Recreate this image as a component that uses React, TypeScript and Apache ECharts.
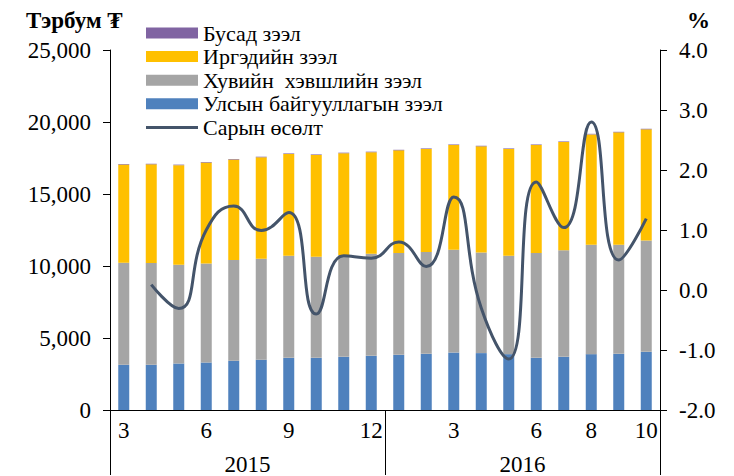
import React, { useEffect, useRef } from "react";
import * as echarts from "echarts";

// Months (2015/3 .. 2016/10)
const categories = [
  "2015-3", "2015-4", "2015-5", "2015-6", "2015-7", "2015-8", "2015-9", "2015-10", "2015-11", "2015-12",
  "2016-1", "2016-2", "2016-3", "2016-4", "2016-5", "2016-6", "2016-7", "2016-8", "2016-9", "2016-10",
];
const shownMonthLabels = ["2015-3", "2015-6", "2015-9", "2015-12", "2016-3", "2016-6", "2016-8", "2016-10"];
const years = ["2015", "2016"];

// Тэрбум ₮
const stateLoans = [3140, 3140, 3230, 3300, 3420, 3490, 3620, 3620, 3690, 3760, 3830, 3900, 3990, 3950, 3880, 3620, 3690, 3880, 3900, 4040];
const privateLoans = [7090, 7070, 6860, 6880, 6990, 7010, 7090, 7020, 7070, 7090, 7070, 7070, 7140, 6990, 6830, 7280, 7410, 7590, 7570, 7730];
const individualLoans = [6810, 6850, 6910, 7000, 6980, 7050, 7070, 7070, 7070, 7050, 7130, 7160, 7270, 7370, 7420, 7500, 7510, 7670, 7810, 7720];
const otherLoans = [40, 40, 40, 40, 40, 40, 40, 40, 40, 40, 40, 40, 40, 40, 40, 40, 40, 40, 40, 40];
// %
const monthlyGrowth = [null, 0.09, -0.31, 1.0, 1.4, 0.99, 1.29, -0.4, 0.57, 0.53, 0.8, 0.39, 1.55, -0.3, -1.15, 1.8, 1.04, 2.8, 0.5, 1.19];

const leftTicks = { min: 0, max: 25000, interval: 5000 };
const rightTicks = { min: -2, max: 4, interval: 1 };

const FONT = "Liberation Serif";
const LINE_ICON =
  "path://M0,4L52,4L52,7L0,7Z M0,0L0.01,0L0.01,0.01L0,0.01Z M51.99,10.99L52,10.99L52,11L51.99,11Z";

export default function App() {
  const ref = useRef<HTMLDivElement>(null);
  useEffect(() => {
    if (!ref.current) return;
    const chart = echarts.init(ref.current, null, { renderer: "svg" });
    const barBase = {
      type: "bar" as const,
      stack: "loans",
      barWidth: 11,
      xAxisIndex: 0,
      yAxisIndex: 0,
    };
    const axisText = { fontFamily: FONT, fontSize: 23, color: "#000" };
    chart.setOption({
      animation: false,
      grid: { left: 110, right: 74, top: 50, bottom: 65, containLabel: false },
      legend: {
        orient: "vertical",
        left: 146,
        top: 22,
        padding: 0,
        itemWidth: 52,
        itemHeight: 11,
        itemGap: 1.6,
        textStyle: { fontFamily: FONT, fontSize: 22, color: "#000" },
        data: [
          { name: "Бусад зээл", icon: "rect" },
          { name: "Иргэдийн зээл", icon: "rect" },
          { name: "Хувийн  хэвшлийн зээл", icon: "rect" },
          { name: "Улсын байгууллагын зээл", icon: "rect" },
          { name: "Сарын өсөлт", icon: LINE_ICON },
        ],
      },
      graphic: [
        {
          type: "text",
          left: 26,
          top: 9,
          style: { text: "Тэрбум ₮", fontFamily: FONT, fontSize: 23, fontWeight: "bold", fill: "#000" },
        },
        {
          type: "text",
          left: 687,
          top: 9,
          style: { text: "%", fontFamily: FONT, fontSize: 23, fontWeight: "bold", fill: "#000" },
        },
      ],
      xAxis: [
        {
          type: "category",
          data: categories,
          position: "bottom",
          axisLine: { show: true, onZero: false, lineStyle: { color: "#000", width: 1 } },
          axisTick: { show: false },
          axisLabel: {
            ...axisText,
            interval: (_i: number, v: string) => shownMonthLabels.indexOf(v) >= 0,
            formatter: (v: string) => v.split("-")[1],
            margin: 9,
          },
          splitLine: { show: false },
        },
        {
          type: "category",
          data: years,
          position: "bottom",
          axisLine: { show: false, onZero: false },
          axisTick: {
            show: true,
            interval: 0,
            length: 65,
            inside: false,
            alignWithLabel: false,
            lineStyle: { color: "#000", width: 1 },
          },
          axisLabel: { ...axisText, margin: 43, interval: 0 },
          splitLine: { show: false },
        },
      ],
      yAxis: [
        {
          type: "value",
          position: "left",
          ...leftTicks,
          axisLine: { show: true, lineStyle: { color: "#000", width: 1 } },
          axisTick: { show: true, length: 7, lineStyle: { color: "#000" } },
          axisLabel: {
            ...axisText,
            margin: 19,
            formatter: (v: number) => v.toLocaleString("en-US"),
          },
          splitLine: { show: false },
        },
        {
          type: "value",
          position: "right",
          ...rightTicks,
          axisLine: { show: true, lineStyle: { color: "#000", width: 1 } },
          axisTick: { show: true, length: 7, lineStyle: { color: "#000" } },
          axisLabel: {
            ...axisText,
            margin: 19,
            formatter: (v: number) => v.toFixed(1),
          },
          splitLine: { show: false },
        },
      ],
      series: [
        { ...barBase, name: "Улсын байгууллагын зээл", data: stateLoans, itemStyle: { color: "#4F81BD" } },
        { ...barBase, name: "Хувийн  хэвшлийн зээл", data: privateLoans, itemStyle: { color: "#A5A5A5" } },
        { ...barBase, name: "Иргэдийн зээл", data: individualLoans, itemStyle: { color: "#FFC000" } },
        { ...barBase, name: "Бусад зээл", data: otherLoans, itemStyle: { color: "#8064A2" } },
        {
          type: "line",
          name: "Сарын өсөлт",
          xAxisIndex: 0,
          yAxisIndex: 1,
          data: monthlyGrowth,
          smooth: 0.5,
          symbol: "none",
          connectNulls: false,
          lineStyle: { color: "#44546A", width: 3 },
          itemStyle: { color: "#44546A" },
          z: 5,
        },
      ],
    });
    return () => chart.dispose();
  }, []);
  return (
    <div
      ref={ref}
      style={{ position: "fixed", left: 0, top: 0, width: 734, height: 476, background: "#fff" }}
    />
  );
}
